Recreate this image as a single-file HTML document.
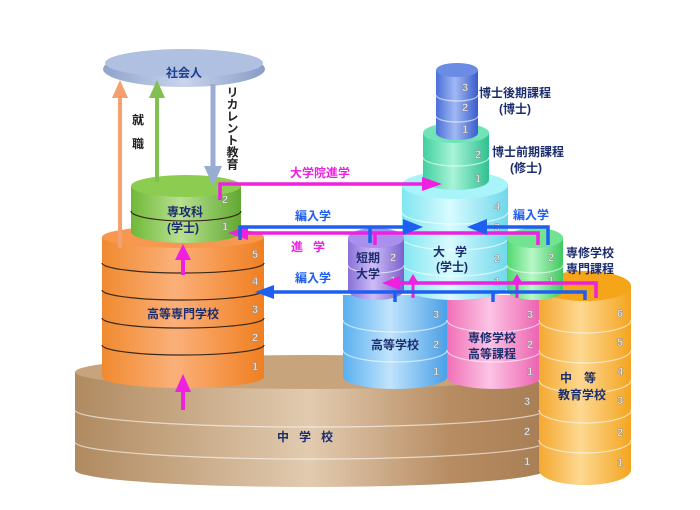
<!DOCTYPE html>
<html><head><meta charset="utf-8"><style>
html,body{margin:0;padding:0;background:#fff;}
svg{display:block;}
text{font-family:"Liberation Sans","Noto Sans CJK JP",sans-serif;font-weight:bold;}
.lb{fill:#1c2d6e;font-size:12px;text-anchor:middle;}
.nm{fill:#f4f4f4;stroke:#8a8a8a;stroke-width:0.5;font-size:11px;text-anchor:middle;}
.dv{fill:none;stroke:rgba(255,255,255,0.6);stroke-width:1.2;}
.dk{fill:none;stroke:#3a2a1a;stroke-width:1.2;}
</style></head><body>
<svg width="700" height="510" viewBox="0 0 700 510" xmlns="http://www.w3.org/2000/svg">
<defs>
<linearGradient id="gBr" x1="0" x2="1"><stop offset="0" stop-color="#b08a60"/><stop offset="0.5" stop-color="#e2cbb0"/><stop offset="0.8" stop-color="#b78c62"/><stop offset="1" stop-color="#a87e55"/></linearGradient>
<linearGradient id="gOr" x1="0" x2="1"><stop offset="0" stop-color="#f08a30"/><stop offset="0.45" stop-color="#fbb07a"/><stop offset="1" stop-color="#f07f20"/></linearGradient>
<linearGradient id="gYe" x1="0" x2="1"><stop offset="0" stop-color="#f4a830"/><stop offset="0.45" stop-color="#fdd890"/><stop offset="1" stop-color="#f4a420"/></linearGradient>
<linearGradient id="gGr" x1="0" x2="1"><stop offset="0" stop-color="#6fb838"/><stop offset="0.45" stop-color="#b8e090"/><stop offset="1" stop-color="#60a830"/></linearGradient>
<linearGradient id="gCy" x1="0" x2="1"><stop offset="0" stop-color="#7fe6f0"/><stop offset="0.45" stop-color="#d8fbff"/><stop offset="1" stop-color="#6fd8ea"/></linearGradient>
<linearGradient id="gMi" x1="0" x2="1"><stop offset="0" stop-color="#40d0a0"/><stop offset="0.45" stop-color="#a8f4d8"/><stop offset="1" stop-color="#30c090"/></linearGradient>
<linearGradient id="gBl" x1="0" x2="1"><stop offset="0" stop-color="#4a6fd8"/><stop offset="0.45" stop-color="#a0b8f4"/><stop offset="1" stop-color="#3a5ccc"/></linearGradient>
<linearGradient id="gPu" x1="0" x2="1"><stop offset="0" stop-color="#8a70d8"/><stop offset="0.45" stop-color="#cdbcf8"/><stop offset="1" stop-color="#7a60cc"/></linearGradient>
<linearGradient id="gLg" x1="0" x2="1"><stop offset="0" stop-color="#50d870"/><stop offset="0.45" stop-color="#b8f8c8"/><stop offset="1" stop-color="#40c860"/></linearGradient>
<linearGradient id="gSk" x1="0" x2="1"><stop offset="0" stop-color="#5ab0f0"/><stop offset="0.45" stop-color="#c0e4fc"/><stop offset="1" stop-color="#4aa0e8"/></linearGradient>
<linearGradient id="gPk" x1="0" x2="1"><stop offset="0" stop-color="#f070b8"/><stop offset="0.45" stop-color="#fcc4e4"/><stop offset="1" stop-color="#ec60b0"/></linearGradient>
<linearGradient id="gSo" x1="0" x2="1"><stop offset="0" stop-color="#8fa4cc"/><stop offset="0.5" stop-color="#c8d4ec"/><stop offset="1" stop-color="#8a9cc6"/></linearGradient>
</defs>

<!-- 中学校 -->
<path d="M75,372 L75,470 A235,17 0 0 0 545,470 L545,372 Z" fill="url(#gBr)"/>
<ellipse cx="310" cy="372" rx="235" ry="17" fill="#c8a47c"/>
<path class="dv" d="M75,410 A235,17 0 0 0 545,410"/>
<path class="dv" d="M75,442 A235,17 0 0 0 545,442"/>
<text class="lb" x="310" y="441" style="letter-spacing:10px">中学校</text>
<text class="nm" x="527" y="405">3</text><text class="nm" x="527" y="435">2</text><text class="nm" x="527" y="465">1</text>

<!-- 高等学校 -->
<path d="M343,295 L343,377 A52,12 0 0 0 447,377 L447,295 Z" fill="url(#gSk)"/>
<path class="dv" d="M343,320 A52,12 0 0 0 447,320"/>
<path class="dv" d="M343,350 A52,12 0 0 0 447,350"/>
<text class="lb" x="395" y="349">高等学校</text>
<text class="nm" x="436" y="318">3</text><text class="nm" x="436" y="348">2</text><text class="nm" x="436" y="375">1</text>

<!-- 専修学校高等課程 -->
<path d="M447,295 L447,377 A47,12 0 0 0 541,377 L541,295 Z" fill="url(#gPk)"/>
<path class="dv" d="M447,320 A47,12 0 0 0 541,320"/>
<path class="dv" d="M447,350 A47,12 0 0 0 541,350"/>
<text class="lb" x="492" y="342">専修学校</text><text class="lb" x="492" y="358">高等課程</text>
<text class="nm" x="530" y="318">3</text><text class="nm" x="530" y="348">2</text><text class="nm" x="530" y="375">1</text>

<!-- 中等教育学校 -->
<path d="M539,286 L539,470 A46,15 0 0 0 631,470 L631,286 Z" fill="url(#gYe)"/>
<ellipse cx="585" cy="286" rx="46" ry="15" fill="#f6a418"/>
<path class="dv" d="M539,320 A46,13 0 0 0 631,320"/>
<path class="dv" d="M539,350 A46,13 0 0 0 631,350"/>
<path class="dv" d="M539,380 A46,13 0 0 0 631,380"/>
<path class="dv" d="M539,410 A46,13 0 0 0 631,410"/>
<path class="dv" d="M539,440 A46,13 0 0 0 631,440"/>
<text class="lb" x="584" y="382" style="letter-spacing:12px">中等</text>
<text class="lb" x="582" y="399">教育学校</text>
<text class="nm" x="620" y="317">6</text><text class="nm" x="620" y="346">5</text><text class="nm" x="620" y="375">4</text>
<text class="nm" x="620" y="404">3</text><text class="nm" x="620" y="436">2</text><text class="nm" x="620" y="466">1</text>

<!-- 大学 -->
<path d="M402,185 L402,286 A53,14 0 0 0 508,286 L508,185 Z" fill="url(#gCy)"/>
<ellipse cx="455" cy="185" rx="53" ry="14" fill="#a8f4fa"/>
<path class="dv" d="M402,212 A53,12 0 0 0 508,212"/>
<path class="dv" d="M402,238 A53,12 0 0 0 508,238"/>
<path class="dv" d="M402,264 A53,12 0 0 0 508,264"/>
<text class="lb" x="455" y="256" style="letter-spacing:10px">大学</text>
<text class="lb" x="452" y="271">(学士)</text>
<text class="nm" x="497" y="210">4</text><text class="nm" x="497" y="231">3</text><text class="nm" x="497" y="262">2</text><text class="nm" x="497" y="285">1</text>

<!-- 博士前期 -->
<path d="M423,133 L423,180 A33,10 0 0 0 489,180 L489,133 Z" fill="url(#gMi)"/>
<ellipse cx="456" cy="133" rx="33" ry="10" fill="#70e4b8"/>
<path class="dv" d="M423,157 A33,9 0 0 0 489,157"/>
<text class="nm" x="478" y="158">2</text><text class="nm" x="478" y="182">1</text>

<!-- 博士後期 -->
<path d="M436,70 L436,133 A21,7 0 0 0 478,133 L478,70 Z" fill="url(#gBl)"/>
<ellipse cx="457" cy="70" rx="21" ry="7" fill="#6a8ce4"/>
<path class="dv" d="M436,95 A21,6 0 0 0 478,95"/>
<path class="dv" d="M436,116 A21,6 0 0 0 478,116"/>
<text class="nm" x="465" y="91">3</text><text class="nm" x="465" y="111">2</text><text class="nm" x="465" y="133">1</text>
<text class="lb" x="515" y="97">博士後期課程</text><text class="lb" x="515" y="113">(博士)</text>
<text class="lb" x="528" y="156">博士前期課程</text><text class="lb" x="526" y="172">(修士)</text>

<!-- 短期大学 -->
<path d="M348,238 L348,290 A28,10 0 0 0 404,290 L404,238 Z" fill="url(#gPu)"/>
<ellipse cx="376" cy="238" rx="28" ry="10" fill="#a890ec"/>
<path class="dv" d="M348,265 A28,8 0 0 0 404,265"/>
<text class="lb" x="368" y="262">短期</text><text class="lb" x="368" y="278">大学</text>
<text class="nm" x="393" y="261">2</text><text class="nm" x="393" y="284">1</text>

<!-- 専修学校専門課程 -->
<path d="M507,238 L507,290 A28,10 0 0 0 563,290 L563,238 Z" fill="url(#gLg)"/>
<ellipse cx="535" cy="238" rx="28" ry="10" fill="#70e490"/>
<path class="dv" d="M507,265 A28,8 0 0 0 563,265"/>
<text class="nm" x="551" y="261">2</text><text class="nm" x="551" y="284">1</text>
<text class="lb" x="590" y="257">専修学校</text><text class="lb" x="590" y="273">専門課程</text>

<!-- 高等専門学校 -->
<path d="M102,237 L102,377 A81,11 0 0 0 264,377 L264,237 Z" fill="url(#gOr)"/>
<ellipse cx="183" cy="237" rx="81" ry="11" fill="#f89850"/>
<path class="dk" d="M102,263 A81,10 0 0 0 264,263"/>
<path class="dk" d="M102,290 A81,10 0 0 0 264,290"/>
<path class="dk" d="M102,318 A81,10 0 0 0 264,318"/>
<path class="dk" d="M102,345 A81,10 0 0 0 264,345"/>
<text class="lb" x="183" y="318">高等専門学校</text>
<text class="nm" x="255" y="258">5</text><text class="nm" x="255" y="285">4</text><text class="nm" x="255" y="313">3</text><text class="nm" x="255" y="341">2</text><text class="nm" x="255" y="370">1</text>

<!-- 専攻科 -->
<path d="M131,186 L131,232 A55,11 0 0 0 241,232 L241,186 Z" fill="url(#gGr)"/>
<ellipse cx="186" cy="186" rx="55" ry="11" fill="#8ccc50"/>
<path class="dk" d="M131,211 A55,10 0 0 0 241,211"/>
<text class="lb" x="185" y="216">専攻科</text><text class="lb" x="183" y="232">(学士)</text>
<text class="nm" x="225" y="203">2</text><text class="nm" x="225" y="230">1</text>

<!-- 社会人 -->
<ellipse cx="184" cy="69" rx="81" ry="18" fill="url(#gSo)"/>
<ellipse cx="184" cy="63" rx="79" ry="14" fill="#b0c0e0"/>
<text class="lb" x="184" y="77" style="fill:#1f3f8f">社会人</text>

<!-- vertical arrows -->
<line x1="120" y1="248" x2="120" y2="96" stroke="#f4a070" stroke-width="4"/>
<polygon points="112,98 128,98 120,80" fill="#f4a070"/>
<line x1="157" y1="182" x2="157" y2="96" stroke="#80c050" stroke-width="4"/>
<polygon points="149,98 165,98 157,80" fill="#80c050"/>
<line x1="213" y1="84" x2="213" y2="168" stroke="#98acd4" stroke-width="5"/>
<polygon points="204,166 222,166 213,186" fill="#98acd4"/>
<text x="138" y="124" style="font-size:12px;fill:#222" text-anchor="middle">就</text>
<text x="138" y="148" style="font-size:12px;fill:#222" text-anchor="middle">職</text>
<text style="font-size:12px;fill:#222;writing-mode:vertical-rl" x="232" y="86">リカレント教育</text>

<!-- magenta arrows -->
<g fill="#f020e0" stroke="#f020e0">
<polyline points="220,200 220,184 425,184" fill="none" stroke-width="3.5"/>
<polygon points="422,177 442,184 422,191" stroke="none"/>
<polyline points="245,233 538,233 538,245" fill="none" stroke-width="3.5"/>
<polygon points="248,226 228,233 248,240" stroke="none"/>
<line x1="375" y1="233" x2="375" y2="245" stroke-width="3.5"/>
<polyline points="398,283 596,283 596,298" fill="none" stroke-width="3.5"/>
<polygon points="400,276 382,283 400,290" stroke="none"/>
<line x1="413" y1="298" x2="413" y2="283" stroke-width="3"/>
<polygon points="407,284 419,284 413,274" stroke="none"/>
<line x1="517" y1="298" x2="517" y2="283" stroke-width="3"/>
<polygon points="511,284 523,284 517,274" stroke="none"/>
<line x1="183" y1="275" x2="183" y2="258" stroke-width="4"/>
<polygon points="175,260 191,260 183,244" stroke="none"/>
<line x1="183" y1="410" x2="183" y2="390" stroke-width="4"/>
<polygon points="175,392 191,392 183,374" stroke="none"/>
</g>
<!-- blue arrows -->
<g fill="#1e5ef0" stroke="#1e5ef0">
<polyline points="240,240 240,227 405,227" fill="none" stroke-width="3.5"/>
<polygon points="403,219 423,227 403,235" stroke="none"/>
<line x1="370" y1="227" x2="370" y2="243" stroke-width="3.5"/>
<polyline points="548,245 548,227 485,227" fill="none" stroke-width="3.5"/>
<polygon points="487,219 467,227 487,235" stroke="none"/>
<polyline points="585,300 585,292 272,292" fill="none" stroke-width="3.5"/>
<polygon points="274,285 255,292 274,299" stroke="none"/>
<line x1="395" y1="292" x2="395" y2="302" stroke-width="3.5"/>
<line x1="493" y1="292" x2="493" y2="302" stroke-width="3.5"/>
</g>
<text x="320" y="177" style="font-size:12px;fill:#f020e0" text-anchor="middle">大学院進学</text>
<text x="313" y="220" style="font-size:12px;fill:#1e5ef0" text-anchor="middle">編入学</text>
<text x="313" y="251" style="font-size:12px;fill:#f020e0;letter-spacing:10px" text-anchor="middle">進学</text>
<text x="313" y="282" style="font-size:12px;fill:#1e5ef0" text-anchor="middle">編入学</text>
<text x="531" y="219" style="font-size:12px;fill:#1e5ef0" text-anchor="middle">編入学</text>
</svg>
</body></html>
